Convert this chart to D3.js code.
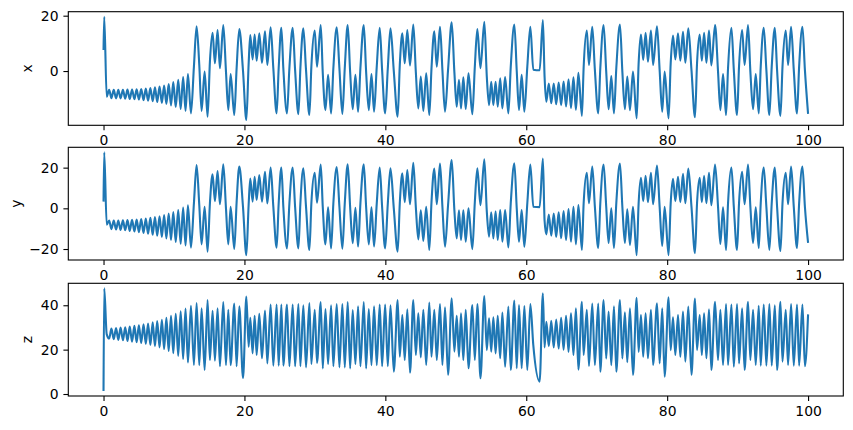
<!DOCTYPE html>
<html>
<head>
<meta charset="utf-8">
<script src="https://cdn.jsdelivr.net/npm/d3@7"></script>
<style>
body { margin: 0; background: #fff; }
text { font-family: "DejaVu Sans", sans-serif; }
</style>
</head>
<body>
<div id="chart-area"></div>
<script>
// time of each turning point
var tVals = [
  0, 0.1, 0.45,
  0.80, 1.12, 1.45, 1.78, 2.10, 2.42, 2.75, 3.08, 3.40, 3.72, 4.05, 4.38, 4.70, 5.02, 5.35, 5.68, 6.00, 6.32,
  6.65, 6.98, 7.30, 7.62, 7.95, 8.28, 8.60, 8.92, 9.25, 9.58, 9.90, 10.25, 10.60, 10.95, 11.30, 11.64, 11.98, 12.41,
  12.83, 13.21, 13.59, 13.92, 14.35, 14.77, 15.10, 15.48, 15.81, 16.19,
  16.52, 17.00, 17.38, 17.71, 18.04, 18.56, 18.89, 19.27, 19.80, 20.27,
  20.60, 20.83, 21.16, 21.45, 21.73, 22.11, 22.49, 22.92, 23.25, 23.72,
  24.10, 24.57, 24.86, 25.24, 25.52, 26.04, 26.38, 26.85, 27.19, 27.66,
  27.94, 28.36, 28.74, 29.22, 29.50, 29.98, 30.30, 30.83, 31.12, 31.50,
  31.87, 32.30, 32.62, 33.10, 33.48, 33.90, 34.24, 34.66, 35.00, 35.37,
  35.75, 36.13, 36.46, 36.94, 37.27, 37.65, 38.03, 38.40, 38.78, 39.20,
  39.54, 39.97, 40.35, 40.73,
  41.20, 41.75, 42.05, 42.41, 42.75, 43.12, 43.50, 43.97, 44.33, 44.68,
  45.03, 45.39, 45.80, 46.24, 46.55, 46.95, 47.30, 47.76, 48.10, 48.47,
  48.90, 49.42, 49.80, 50.13, 50.45, 50.74, 51.07, 51.41, 51.80, 52.35,
  52.70, 53.06, 53.50, 54.05, 54.40, 54.72, 55.03, 55.33, 55.65, 55.95,
  56.30, 56.61, 57.00, 57.46, 57.80, 58.31, 58.65, 58.97, 59.35, 59.73,
  60.15, 60.58, 61.00, 61.90, 62.36, 62.60, 62.85,
  63.20, 63.55, 63.90, 64.25, 64.60, 64.95, 65.30, 65.65, 66.00, 66.35,
  66.70, 67.05, 67.40, 67.90, 68.14, 68.60, 68.90, 69.37, 69.74, 70.22,
  70.51, 70.98, 71.35, 71.69, 72.07, 72.45, 72.78, 73.30, 73.64, 74.00,
  74.34, 74.72, 75.15, 75.67, 75.95, 76.28, 76.60, 76.94, 77.27, 77.70,
  78.00, 78.56, 78.93, 79.30, 79.64, 80.20, 80.50, 80.83, 81.16, 81.54,
  81.87, 82.25, 82.58, 83.00, 83.45, 83.95, 84.24, 84.62, 84.92, 85.24,
  85.57, 85.94, 86.27, 86.80, 87.22, 87.55, 87.93, 88.36, 88.64, 89.12,
  89.46, 89.92, 90.20, 90.64, 90.99, 91.48, 91.81, 92.19, 92.57, 93.00,
  93.28, 93.71, 94.08, 94.51, 94.84, 95.28, 95.60, 96.08, 96.37, 96.83,
  97.16, 97.59, 97.97, 98.43, 98.73, 99.20, 99.55, 100.0
];

var xVals = [
  7.6, 19.6, -9.3,
  -6.8, -9.8, -6.8, -9.9, -6.8, -9.9, -6.8, -10.0, -6.7, -10.1, -6.7, -10.2, -6.6, -10.3, -6.5, -10.5, -6.3, -10.7,
  -6.1, -10.9, -5.9, -11.2, -5.6, -11.5, -5.2, -11.9, -4.7, -12.4, -4.0, -13.0, -3.2, -13.7, -2.2, -14.4, -1.1, -15.3,
  1.6, 16.2, 2.2, -14.4, -0.2, -16.5, 3.4, 13.8, 2.8, 14.8,
  1.0, 16.6, -0.2, -14.1, -1.1, -15.9, 1.0, 15.2, 0.0, -17.7,
  2.8, 13.0, 4.2, 13.2, 3.7, 13.6, 3.0, 14.4, 2.2, 15.8,
  1.0, -15.3, 1.0, 15.6, 1.0, -15.3, 1.0, 15.6, 0.4, -15.6,
  1.0, 15.4, 0.4, -15.9, 1.6, 14.6, 1.6, 16.6, -0.8, -14.1,
  -1.4, -15.3, 1.0, 15.8, 1.0, -15.5, 1.0, 16.6, -0.2, -13.8,
  -1.4, -14.7, 1.0, 16.6, -0.2, -14.1, -1.1, -14.7, 1.6, 15.6,
  0.4, -15.3, 1.0, 15.4,
  0.0, -16.5, 2.2, 13.6, 2.8, 14.8, 2.0, 16.8, -0.5, -13.5,
  -2.0, -14.4, -0.8, -15.9, 1.0, 14.4, 1.6, 16.0, 0.4, -14.7,
  0.4, 17.6, -0.5, -12.9, -3.2, -13.5, -2.3, -13.7, -0.8, -15.6,
  1.6, 15.2, 1.0, 17.8, -2.0, -12.3, -3.9, -12.3, -3.9, -12.9,
  -2.6, -13.5, -2.2, -15.3, 1.6, 16.8, 0.0, -14.1, -1.4, -14.7,
  1.6, 16.0, 0.5, 0.3, 18.4, -2.0, -11.1,
  -4.5, -11.6, -4.5, -12.0, -4.2, -12.3, -3.8, -12.8, -3.0, -13.4,
  -2.3, -14.0, -0.6, -16.2, 1.0, 14.6, 2.2, 16.0, 0.4, -15.3,
  1.0, 16.6, -0.2, -13.8, -1.8, -15.3, 1.0, 16.8, -0.2, -13.8,
  -2.0, -14.1, -0.2, -17.1, 2.8, 13.2, 4.0, 13.8, 3.4, 14.6,
  2.2, 16.2, 0.4, -14.7, -0.2, -17.1, 2.8, 12.8, 4.2, 13.6,
  3.7, 14.2, 3.0, 15.4, 0.4, -16.7, 2.8, 13.2, 3.7, 13.8,
  3.0, 14.6, 2.0, 16.6, -0.2, -14.1, -1.1, -15.9, 1.0, 15.6,
  0.4, -15.9, 1.6, 14.8, 2.2, 16.6, -0.2, -13.8, -1.1, -15.3,
  1.6, 15.6, 0.4, -15.9, 1.6, 15.6, 0.4, -16.2, 1.6, 14.6,
  2.2, 16.0, 0.4, -15.3, 1.6, 16.0, 0.4, -15.5
];

var yVals = [
  3.3, 27.5, -8.0,
  -6.0, -10.2, -6.0, -10.4, -6.0, -10.6, -5.9, -10.8, -5.8, -11.1, -5.7, -11.4, -5.5, -11.7, -5.3, -12.1, -5.0, -12.5,
  -4.7, -13.0, -4.3, -13.5, -3.9, -14.1, -3.3, -14.8, -2.6, -15.6, -1.8, -16.5, -0.8, -17.4, 0.4, -18.3, 1.5, -19.3,
  2.5, 21.3, 1.6, -17.7, 0.8, -21.3, 2.5, 16.7, 3.5, 18.3,
  2.0, 21.6, 0.0, -17.7, 0.8, -20.0, 3.0, 20.5, 0.5, -23.0,
  2.0, 14.7, 3.3, 15.5, 4.1, 16.4, 3.3, 18.0, 2.4, 20.0,
  0.8, -19.3, 2.4, 20.1, 0.8, -19.7, 2.4, 20.1, 0.8, -19.7,
  2.4, 19.7, 0.8, -20.5, 2.5, 17.5, 2.8, 21.5, 0.5, -17.7,
  0.5, -19.7, 2.4, 20.3, 0.8, -19.9, 2.4, 21.6, 0.8, -17.2,
  0.3, -18.8, 2.4, 21.6, 0.8, -17.7, 0.5, -18.8, 2.4, 20.1,
  0.8, -19.7, 2.4, 19.7,
  0.0, -21.3, 2.5, 17.2, 3.0, 18.8, 2.0, 22.4, 0.5, -15.3,
  -1.0, -16.0, 0.8, -20.5, 3.0, 19.5, 2.0, 22.0, 0.8, -18.9,
  1.5, 23.7, -1.0, -14.8, -1.0, -15.6, -1.0, -16.4, 0.0, -20.1,
  3.0, 19.7, 1.5, 24.1, -1.5, -13.9, -2.0, -14.8, -1.5, -15.6,
  -0.8, -16.4, -0.8, -19.2, 2.5, 22.1, 0.0, -16.4, -0.8, -18.9,
  2.5, 21.5, 0.8, 0.6, 24.5, -6.0, -12.8,
  -3.0, -13.4, -2.6, -14.1, -2.0, -14.7, -1.3, -15.6, -0.3, -16.4,
  0.8, -17.7, 1.6, -20.5, 2.0, 17.5, 2.5, 20.5, 0.8, -19.5,
  2.5, 21.5, 0.8, -17.0, 0.0, -19.5, 2.5, 22.0, 0.8, -17.0,
  -0.5, -18.0, 0.8, -23.0, 2.5, 15.0, 3.5, 16.0, 3.0, 17.5,
  2.0, 21.0, 0.8, -18.5, 0.8, -23.0, 2.5, 14.5, 3.5, 15.5,
  3.0, 17.0, 2.5, 19.5, 0.8, -22.0, 2.5, 15.0, 3.0, 16.0,
  2.5, 17.5, 1.5, 21.5, 0.8, -17.5, 0.5, -20.5, 2.5, 20.0,
  0.8, -20.5, 2.5, 18.0, 2.0, 21.5, 0.8, -17.0, 0.5, -19.5,
  2.5, 20.0, 0.8, -20.5, 2.5, 20.0, 0.8, -21.0, 2.5, 17.5,
  2.0, 20.5, 0.8, -19.5, 2.5, 20.5, 0.8, -17.0
];

var zVals = [
  1.4, 47.6, 27.0,
  25.0, 29.5, 24.7, 29.7, 24.4, 29.9, 24.2, 30.1, 23.9, 30.4, 23.6, 30.7, 23.3, 31.0, 23.0, 31.4, 22.6, 31.8,
  22.1, 32.3, 21.6, 32.9, 21.0, 33.5, 20.3, 34.3, 19.4, 35.2, 18.4, 36.2, 17.2, 37.3, 15.8, 38.5, 14.2, 39.8,
  13.1, 41.0, 13.0, 38.6, 10.8, 42.4, 15.3, 37.5, 15.0, 38.6,
  12.5, 41.5, 13.0, 38.0, 13.0, 40.8, 12.5, 39.5, 7.1, 43.9,
  21.3, 34.4, 18.3, 35.3, 17.6, 36.1, 16.1, 37.6, 13.8, 40.3,
  12.8, 40.3, 12.8, 40.3, 12.8, 40.3, 12.5, 40.3, 12.5, 40.6,
  12.5, 40.0, 12.0, 41.0, 13.5, 38.0, 14.0, 41.5, 11.5, 38.3,
  13.5, 40.0, 12.5, 40.5, 12.0, 40.5, 12.0, 41.5, 11.5, 37.8,
  13.5, 39.5, 12.5, 41.5, 11.5, 38.3, 13.0, 39.5, 13.0, 40.3,
  12.5, 40.3, 12.5, 40.0,
  10.1, 42.4, 16.8, 35.6, 15.3, 38.2, 9.6, 42.4, 17.6, 36.4,
  16.5, 37.9, 13.1, 41.2, 16.8, 37.9, 15.3, 40.6, 13.1, 39.1,
  8.6, 43.1, 19.1, 35.2, 16.8, 36.4, 15.3, 37.9, 11.6, 40.1,
  15.3, 40.6, 7.1, 44.2, 19.8, 34.1, 19.1, 34.6, 18.3, 35.2,
  16.1, 36.7, 12.3, 39.4, 10.8, 42.1, 11.6, 40.1, 11.6, 39.7,
  10.8, 40.6, 22.0, 5.6, 45.4, 21.0, 32.6,
  21.5, 33.0, 21.0, 33.6, 20.5, 34.4, 20.0, 35.3, 19.0, 36.4,
  17.6, 38.6, 11.0, 41.6, 17.6, 37.9, 12.6, 40.8, 13.0, 40.8,
  10.0, 42.3, 16.0, 37.2, 13.0, 39.5, 10.0, 42.4, 16.0, 36.8,
  14.3, 38.6, 8.6, 43.4, 19.0, 35.6, 16.8, 36.4, 16.1, 37.9,
  13.1, 40.9, 13.8, 38.6, 7.8, 43.6, 19.8, 34.6, 17.6, 35.6,
  16.8, 37.2, 14.6, 39.4, 8.6, 43.0, 19.8, 35.6, 17.6, 36.4,
  16.1, 38.2, 10.8, 41.6, 15.3, 37.9, 13.1, 40.5, 13.1, 40.3,
  12.3, 40.5, 13.8, 38.6, 10.8, 41.6, 15.3, 37.9, 13.1, 39.8,
  12.8, 40.3, 12.8, 40.6, 12.8, 40.0, 10.8, 41.6, 14.6, 37.9,
  13.1, 40.5, 12.8, 40.3, 12.8, 40.3, 12.5, 35.9
];

var timeTicks = [0, 20, 40, 60, 80, 100];

// figure size
var width = 853, height = 430;
var lineColor = "#1f77b4";

var svg = d3.select("#chart-area")
    .append("svg")
        .attr("width", width)
        .attr("height", height);

// shared time scale
var xScale = d3.scaleLinear()
    .domain([-5, 105])
    .range([68.3, 843.3]);

// one entry per subplot
var panels = [
    { name: "x", values: xVals, top: 11.7, bottom: 125.3, domain: [-19.6, 21.44], ticks: [0, 20], labelX: 32 },
    { name: "y", values: yVals, top: 147.3, bottom: 260, domain: [-25.4, 30.0], ticks: [-20, 0, 20], labelX: 21 },
    { name: "z", values: zVals, top: 283.3, bottom: 396, domain: [-0.9, 49.9], ticks: [0, 20, 40], labelX: 32 }
];

panels.forEach(function(p) {
    var yScale = d3.scaleLinear()
        .domain(p.domain)
        .range([p.bottom, p.top]);

    var data = tVals.map(function(t, i) {
        return { t: t, v: p.values[i] };
    });

    var g = svg.append("g");

    // line
    var line = d3.line()
        .curve(d3.curveMonotoneX)
        .x(function(d) { return xScale(d.t); })
        .y(function(d) { return yScale(d.v); });

    g.append("path")
        .datum(data)
        .attr("fill", "none")
        .attr("stroke", lineColor)
        .attr("stroke-width", 2.1)
        .attr("stroke-linejoin", "round")
        .attr("d", line);

    // X Axis
    var xAxisCall = d3.axisBottom(xScale)
        .tickValues(timeTicks)
        .tickFormat(d3.format("d"))
        .tickSize(4.9)
        .tickPadding(4.9);
    var xa = g.append("g")
        .attr("transform", "translate(0," + p.bottom + ")")
        .call(xAxisCall);

    // Y Axis
    var yAxisCall = d3.axisLeft(yScale)
        .tickValues(p.ticks)
        .tickFormat(d3.format("d"))
        .tickSize(4.9)
        .tickPadding(4.9);
    var ya = g.append("g")
        .attr("transform", "translate(" + xScale.range()[0] + ",0)")
        .call(yAxisCall);

    [xa, ya].forEach(function(a) {
        a.select(".domain").remove();
        a.selectAll("line").attr("stroke", "#000").attr("stroke-width", 1.1);
        a.selectAll("text")
            .attr("fill", "#000")
            .style("font-size", "13.9px")
            .style("font-family", "'DejaVu Sans', sans-serif");
    });

    // frame
    g.append("rect")
        .attr("x", xScale.range()[0])
        .attr("y", p.top)
        .attr("width", xScale.range()[1] - xScale.range()[0])
        .attr("height", p.bottom - p.top)
        .attr("fill", "none")
        .attr("stroke", "#000")
        .attr("stroke-width", 1.1);

    // label
    g.append("text")
        .attr("transform", "translate(" + p.labelX + "," + ((p.top + p.bottom) / 2) + ") rotate(-90)")
        .attr("text-anchor", "middle")
        .style("font-size", "13.9px")
        .attr("fill", "#000")
        .text(p.name);
});
</script>
</body>
</html>
